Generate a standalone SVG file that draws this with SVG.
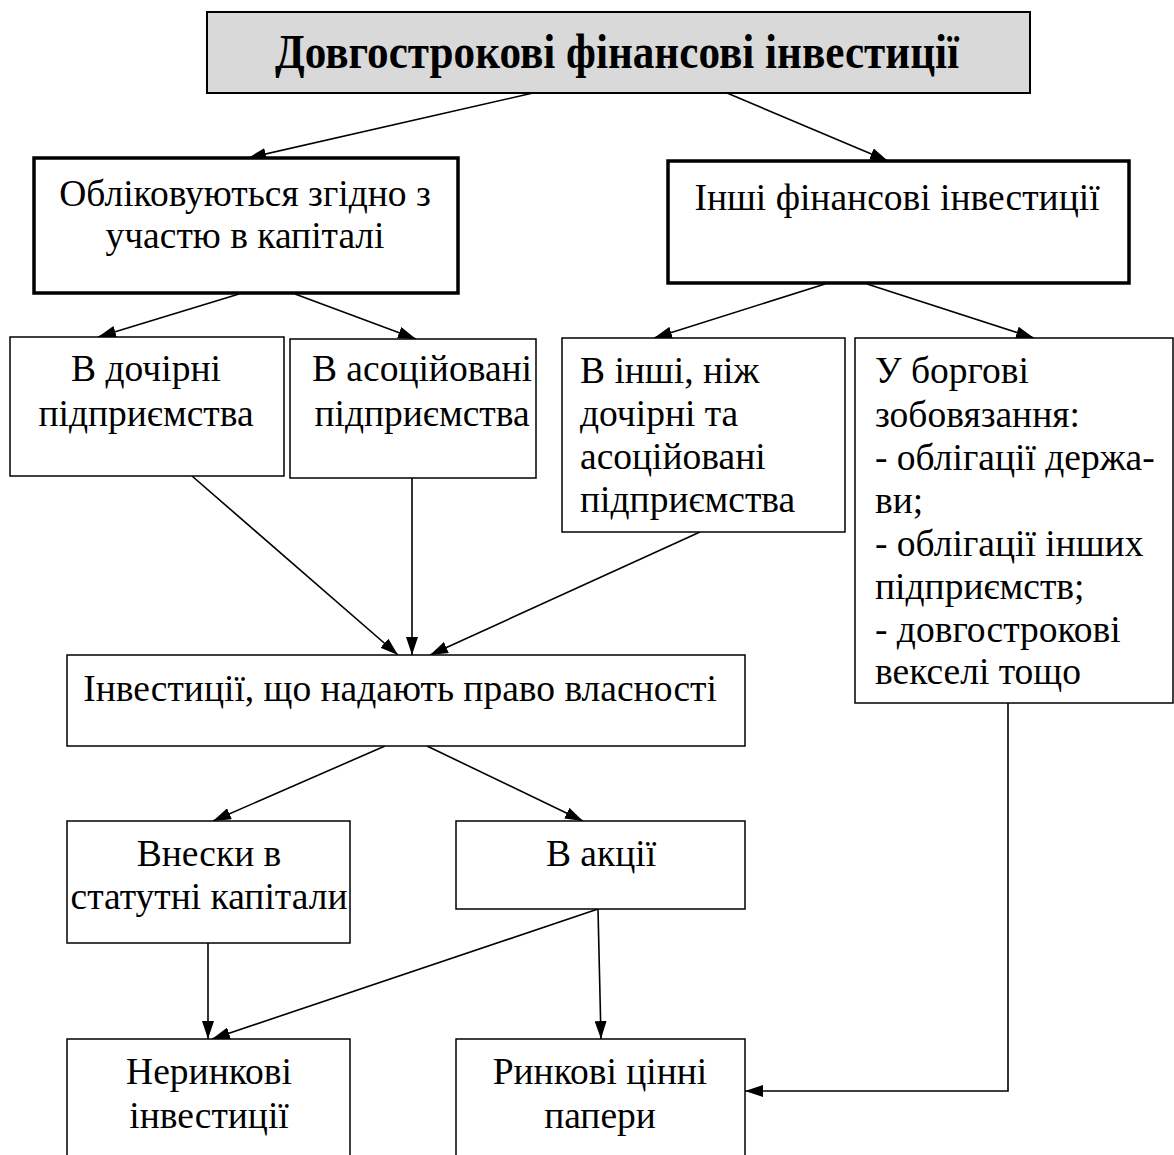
<svg xmlns="http://www.w3.org/2000/svg" width="1174" height="1155" viewBox="0 0 1174 1155">
<style>
  .box { fill: #ffffff; stroke: #000000; stroke-width: 1.5; }
  .thick { fill: #ffffff; stroke: #000000; stroke-width: 3.5; }
  .title { fill: #d9d9d9; stroke: #000000; stroke-width: 2; }
  text { font-family: "Liberation Serif", "Times New Roman", serif; font-size: 37.5px; fill: #000000; }
  .c { text-anchor: middle; }
  .t { font-size: 48px; font-weight: bold; text-anchor: middle; }
  .conn line, .conn polyline { stroke: #000000; stroke-width: 1.6; fill: none; marker-end: url(#arr); }
</style>
<defs>
  <marker id="arr" viewBox="0 0 18 12" refX="18" refY="6" markerWidth="18" markerHeight="12" markerUnits="userSpaceOnUse" orient="auto">
    <path d="M0,0 L18,6 L0,12 z" fill="#000000"/>
  </marker>
</defs>
<rect width="1174" height="1155" fill="#ffffff"/>

<g id="connectors" class="conn">
  <line x1="533" y1="93" x2="248" y2="158"/>
  <line x1="727" y1="93" x2="888" y2="161"/>
  <line x1="239" y1="294" x2="98" y2="337"/>
  <line x1="295" y1="294" x2="416" y2="339"/>
  <line x1="825" y1="284" x2="654" y2="338"/>
  <line x1="867" y1="284" x2="1034" y2="338"/>
  <line x1="192" y1="476" x2="398" y2="655"/>
  <line x1="412" y1="478" x2="412" y2="655"/>
  <line x1="700" y1="532" x2="430" y2="655"/>
  <line x1="385" y1="746" x2="213" y2="821"/>
  <line x1="427" y1="746" x2="583" y2="821"/>
  <line x1="208" y1="943" x2="208" y2="1039"/>
  <line x1="598" y1="909" x2="212" y2="1039"/>
  <line x1="598" y1="909" x2="601" y2="1039"/>
  <polyline points="1008,703 1008,1091 745,1091"/>
</g>

<g id="n-main">
  <rect class="title" x="207" y="12" width="823" height="81"/>
  <text class="t" x="617" y="68" textLength="684" lengthAdjust="spacingAndGlyphs">Довгострокові фінансові інвестиції</text>
</g>
<g id="n-equity">
  <rect class="thick" x="34" y="158" width="424" height="135"/>
  <text class="c" x="245" y="206">Обліковуються згідно з</text>
  <text class="c" x="245" y="248">участю в капіталі</text>
</g>
<g id="n-other">
  <rect class="thick" x="668" y="161" width="461" height="122"/>
  <text class="c" x="897" y="210">Інші фінансові інвестиції</text>
</g>
<g id="n-subsid">
  <rect class="box" x="10" y="337" width="274" height="139"/>
  <text class="c" x="146" y="381">В дочірні</text>
  <text class="c" x="146" y="426">підприємства</text>
</g>
<g id="n-assoc">
  <rect class="box" x="290" y="339" width="246" height="139"/>
  <text class="c" x="422" y="381">В асоційовані</text>
  <text class="c" x="422" y="426">підприємства</text>
</g>
<g id="n-otherent">
  <rect class="box" x="562" y="338" width="283" height="194"/>
  <text x="580" y="383">В інші, ніж</text>
  <text x="580" y="426">дочірні та</text>
  <text x="580" y="469">асоційовані</text>
  <text x="580" y="512">підприємства</text>
</g>
<g id="n-debt">
  <rect class="box" x="855" y="338" width="318" height="365"/>
  <text x="875" y="383">У боргові</text>
  <text x="875" y="427">зобовязання:</text>
  <text x="875" y="470">- облігації держа-</text>
  <text x="875" y="513">ви;</text>
  <text x="875" y="556">- облігації інших</text>
  <text x="875" y="599">підприємств;</text>
  <text x="875" y="642">- довгострокові</text>
  <text x="875" y="684">векселі тощо</text>
</g>
<g id="n-ownership">
  <rect class="box" x="67" y="655" width="678" height="91"/>
  <text class="c" x="400" y="701">Інвестиції, що надають право власності</text>
</g>
<g id="n-contrib">
  <rect class="box" x="67" y="821" width="283" height="122"/>
  <text class="c" x="209" y="866">Внески в</text>
  <text class="c" x="209" y="909">статутні капітали</text>
</g>
<g id="n-shares">
  <rect class="box" x="456" y="821" width="289" height="88"/>
  <text class="c" x="601" y="866">В акції</text>
</g>
<g id="n-nonmarket">
  <rect class="box" x="67" y="1039" width="283" height="130"/>
  <text class="c" x="209" y="1084">Неринкові</text>
  <text class="c" x="209" y="1128">інвестиції</text>
</g>
<g id="n-market">
  <rect class="box" x="456" y="1039" width="289" height="130"/>
  <text class="c" x="600" y="1084">Ринкові цінні</text>
  <text class="c" x="600" y="1128">папери</text>
</g>
</svg>
